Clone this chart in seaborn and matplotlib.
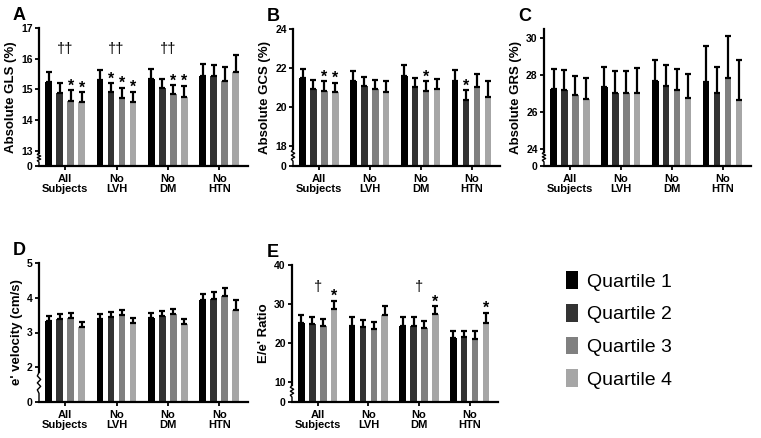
import numpy as np
import pandas as pd
import matplotlib
matplotlib.use("Agg")
import matplotlib.pyplot as plt
from matplotlib.patches import Patch
from matplotlib.container import BarContainer
import seaborn as sns

# ---- data ----
groups = ["All\nSubjects", "No\nLVH", "No\nDM", "No\nHTN"]
quartiles = ["Quartile 1", "Quartile 2", "Quartile 3", "Quartile 4"]
colors = ["#000000", "#333333", "#808080", "#a6a6a6"]

# rows = groups, columns = quartiles
gls_mean = [[15.24, 14.89, 14.63, 14.60],
            [15.31, 14.90, 14.73, 14.60],
            [15.33, 15.05, 14.84, 14.76],
            [15.45, 15.42, 15.27, 15.58]]
gls_err = [[0.31, 0.31, 0.35, 0.30],
           [0.32, 0.30, 0.32, 0.32],
           [0.32, 0.29, 0.30, 0.36],
           [0.37, 0.36, 0.46, 0.54]]

gcs_mean = [[21.49, 20.92, 20.85, 20.79],
            [21.35, 21.09, 20.92, 20.79],
            [21.61, 21.04, 20.84, 20.92],
            [21.35, 20.39, 21.03, 20.53]]
gcs_err = [[0.48, 0.48, 0.47, 0.47],
           [0.51, 0.48, 0.48, 0.53],
           [0.53, 0.48, 0.48, 0.53],
           [0.55, 0.50, 0.65, 0.82]]

grs_mean = [[27.25, 27.22, 26.95, 26.73],
            [27.36, 27.05, 27.04, 27.05],
            [27.67, 27.44, 27.22, 26.76],
            [27.65, 27.05, 27.87, 26.67]]
grs_err = [[1.08, 1.05, 1.00, 1.12],
           [1.11, 1.17, 1.18, 1.33],
           [1.15, 1.11, 1.11, 1.31],
           [1.95, 1.40, 2.26, 2.13]]

evel_mean = [[3.33, 3.38, 3.43, 3.16],
             [3.40, 3.45, 3.51, 3.26],
             [3.41, 3.47, 3.54, 3.24],
             [3.93, 3.97, 4.06, 3.66]]
evel_err = [[0.14, 0.14, 0.13, 0.13],
            [0.14, 0.14, 0.15, 0.15],
            [0.16, 0.15, 0.14, 0.16],
            [0.19, 0.19, 0.21, 0.27]]

ee_mean = [[25.1, 24.9, 24.4, 28.8],
           [24.5, 24.1, 23.6, 27.3],
           [24.4, 24.4, 23.8, 27.4],
           [21.45, 21.7, 21.1, 25.3]]
ee_err = [[2.0, 1.75, 1.8, 2.1],
          [2.1, 1.8, 1.8, 2.2],
          [2.2, 2.2, 1.8, 2.1],
          [1.7, 1.55, 1.95, 2.55]]

# significance marks: (group index, quartile index)
gls_stars = [(0, 2), (0, 3), (1, 1), (1, 2), (1, 3), (2, 2), (2, 3)]
gcs_stars = [(0, 2), (0, 3), (2, 2), (3, 1)]
ee_stars = [(0, 3), (2, 3), (3, 3)]
gls_daggers = [(0, "††", 16.3), (1, "††", 16.3), (2, "††", 16.3)]
ee_daggers = [(0, "†", 34.5), (2, "†", 34.3)]

gls_ticks = [0, 13, 14, 15, 16, 17]
gcs_ticks = [0, 18, 20, 22, 24]
grs_ticks = [0, 24, 26, 28, 30]
evel_ticks = [0, 2, 3, 4, 5]
ee_ticks = [0, 10, 20, 30, 40]

sns.set_style("ticks")
plt.rcParams["font.family"] = ["Liberation Sans", "DejaVu Sans"]
for key in ["text.color", "axes.labelcolor", "xtick.color", "ytick.color",
            "axes.edgecolor"]:
    plt.rcParams[key] = "black"


def broken_scale(lo, gap):
    # compress 0..lo into a short segment of height `gap`
    def fwd(y):
        y = np.asarray(y, dtype=float)
        return np.where(y < lo, y * gap / lo, gap + (y - lo))

    def inv(t):
        t = np.asarray(t, dtype=float)
        return np.where(t < gap, t * lo / gap, t - gap + lo)
    return fwd, inv


def draw_panel(ax, means, errs, ticks, gap, ylabel, letter, top=None,
               stars=(), daggers=()):
    df = pd.DataFrame([(g, q, means[i][j])
                       for i, g in enumerate(groups)
                       for j, q in enumerate(quartiles)],
                      columns=["group", "quartile", "value"])
    sns.barplot(data=df, x="group", y="value", hue="quartile",
                order=groups, hue_order=quartiles, palette=colors,
                saturation=1, width=0.86, gap=0.4, errorbar=None,
                linewidth=0, legend=False, ax=ax)
    bars = [c for c in ax.containers if isinstance(c, BarContainer)]

    lo = ticks[1]
    ymax = top if top is not None else ticks[-1]
    ax.set_yscale("function", functions=broken_scale(lo, gap))
    ax.set_ylim(0, ymax)
    ax.set_xlim(-0.51, 3.56)

    # one-sided error bars
    for j, cont in enumerate(bars):
        xs = [b.get_x() + b.get_width() / 2 for b in cont]
        hs = [b.get_height() for b in cont]
        up = [errs[i][j] for i in range(len(groups))]
        ax.errorbar(xs, hs, yerr=[np.zeros(len(up)), up], fmt="none",
                    ecolor="black", elinewidth=1.6, capsize=2.2,
                    capthick=1.6, zorder=3)

    for g, q in stars:
        b = bars[q][g]
        x = b.get_x() + b.get_width() / 2
        y = means[g][q] + errs[g][q]
        ax.annotate("*", (x, y), xytext=(0, -2.5), textcoords="offset points",
                    ha="center", va="bottom", fontsize=11.5, fontweight="bold")
    for g, sym, y in daggers:
        ax.text(g, y, sym, ha="center", va="center", fontsize=10.5)

    ax.set_yticks(ticks)
    ax.set_yticklabels([str(t) for t in ticks])
    ax.set_xticks(range(len(groups)))
    ax.set_xticklabels(groups, linespacing=1.0)
    ax.tick_params(axis="both", labelsize=7.5, width=1.3, length=3,
                   pad=1.5, color="black")
    ax.tick_params(axis="x", labelsize=8, pad=2.5)
    for lab in ax.get_xticklabels() + ax.get_yticklabels():
        lab.set_fontweight("bold")
    ax.set_xlabel("")
    ax.set_ylabel(ylabel, fontsize=9.5, fontweight="bold", labelpad=3)

    sns.despine(ax=ax)
    ax.spines["left"].set_linewidth(1.6)
    ax.spines["bottom"].set_linewidth(1.6)
    ax.spines["left"].set_bounds(lo * 0.85, ymax)

    # break mark on the y axis between 0 and the first real tick
    trans = ax.get_yaxis_transform()
    zy = np.array([0, 0.25, 0.35, 0.45, 0.55, 0.65, 0.75, 0.85]) * lo
    zx = np.array([0, 0, -0.008, 0.008, -0.008, 0.008, -0.008, 0])
    ax.plot(zx, zy, transform=trans, color="black", lw=1.0,
            clip_on=False, solid_capstyle="butt")

    ax.text(-0.125, 1.03, letter, transform=ax.transAxes, fontsize=13,
            fontweight="bold", ha="left", va="bottom")


W, H = 761, 438
fig = plt.figure(figsize=(W / 100, H / 100), dpi=100)


def box(left, right, top, bottom):
    return [left / W, 1 - bottom / H, (right - left) / W, (bottom - top) / H]


axA = fig.add_axes(box(39, 248, 28, 166))
axB = fig.add_axes(box(293, 500, 29, 166))
axC = fig.add_axes(box(544, 751, 29, 166))
axD = fig.add_axes(box(39, 248, 263, 402))
axE = fig.add_axes(box(292, 498, 265, 402))

draw_panel(axA, gls_mean, gls_err, gls_ticks, 0.5, "Absolute GLS (%)", "A",
           stars=gls_stars, daggers=gls_daggers)
draw_panel(axB, gcs_mean, gcs_err, gcs_ticks, 1.0, "Absolute GCS (%)", "B",
           stars=gcs_stars)
draw_panel(axC, grs_mean, grs_err, grs_ticks, 0.9, "Absolute GRS (%)", "C",
           top=30.5)
draw_panel(axD, evel_mean, evel_err, evel_ticks, 1.0, "e' velocity (cm/s)", "D")
draw_panel(axE, ee_mean, ee_err, ee_ticks, 5.0, "E/e' Ratio", "E",
           stars=ee_stars, daggers=ee_daggers)

handles = [Patch(facecolor=c, edgecolor="none", label=q)
           for c, q in zip(colors, quartiles)]
fig.legend(handles=handles, loc="upper left",
           bbox_to_anchor=(566 / W, 1 - 271 / H), frameon=False,
           fontsize=14, handlelength=0.62, handleheight=1.03,
           handletextpad=0.45, labelspacing=0.68, borderpad=0,
           borderaxespad=0)

fig.savefig("out.png", dpi=100)
